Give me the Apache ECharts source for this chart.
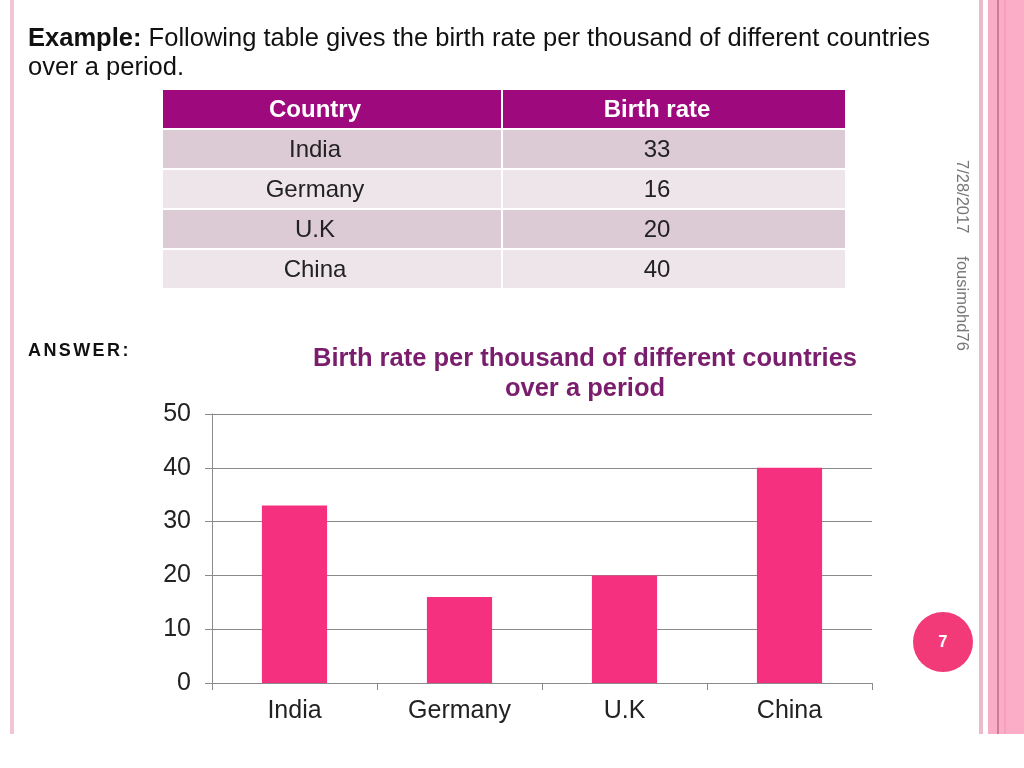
<!DOCTYPE html>
<html>
<head>
<meta charset="utf-8">
<script src="https://cdn.jsdelivr.net/npm/echarts@6/dist/echarts.min.js"></script>
<style>
  html, body { margin: 0; padding: 0; background: #ffffff; }
  #stage { position: relative; width: 1024px; height: 768px; overflow: hidden; background: #fff; font-family: "Liberation Sans", Arial, sans-serif; }
  #chart { position: absolute; left: 0; top: 0; width: 1024px; height: 768px; }
  #heading { position: absolute; left: 28px; top: 23px; font-size: 26px; line-height: 29px; color: #111; white-space: nowrap; transform-origin: 0 0; }
  #heading b { font-weight: bold; }
  #answer { position: absolute; left: 28px; top: 340px; font-weight: bold; font-size: 18px; letter-spacing: 2.4px; color: #111; }
  #tbl { position: absolute; left: 163px; top: 90px; border-collapse: separate; border-spacing: 0; }
  #tbl td, #tbl th { padding: 0; text-align: center; font-size: 24px; box-sizing: border-box; border-bottom: 2px solid #fff; }
  #tbl th { background: #9E0A7E; color: #fff; font-weight: bold; height: 40px; }
  #tbl td { height: 40px; color: #222; }
  #tbl tr.dark td { background: #DCCAD4; }
  #tbl tr.light td { background: #EEE5EB; }
  #tbl .c1 { width: 340px; padding-right: 34px; border-right: 2px solid #fff; }
  #tbl .c2 { width: 342px; padding-right: 34px; }
  .vline { position: absolute; top: 0; height: 734px; }
  #vtext { position: absolute; left: 963px; top: 160px; transform-origin: 0 0; transform: rotate(90deg) translate(0, -9px); white-space: pre; font-size: 16.5px; color: #777; }
  #badge { position: absolute; left: 913px; top: 612px; width: 60px; height: 60px; border-radius: 50%; background: #F23A78; color: #fff; font-weight: bold; font-size: 16px; line-height: 60px; text-align: center; }
</style>
</head>
<body>
<div id="stage">
  <div class="vline" style="left:10px; width:4px; background:#F2C4D4;"></div>
  <div class="vline" style="left:979px; width:4px; background:#EDBACB;"></div>
  <div class="vline" style="left:988px; width:36px; background:#FBADC7;"></div>
  <div class="vline" style="left:997px; width:2px; background:#D07A9B;"></div>
  <div class="vline" style="left:1004px; width:2px; background:#F7A0BE;"></div>
  <div id="chart"></div>
  <div id="heading"></div>
  <table id="tbl"></table>
  <div id="answer">ANSWER:</div>
  <div id="vtext">7/28/2017     fousimohd76</div>
  <div id="badge">7</div>
</div>
<script>
// ---- data ----
var countries = ["India", "Germany", "U.K", "China"];
var birthRates = [33, 16, 20, 40];
var tableHeaders = ["Country", "Birth rate"];
var yTicks = [0, 10, 20, 30, 40, 50];
var headingBold = "Example:";
var headingText = " Following table gives the birth rate per thousand of different countries";
var headingLine2 = "over a period.";
var chartTitle = "Birth rate per thousand of different countries\nover a period";

// heading (fit first line to the reference width)
var heading = document.getElementById('heading');
heading.innerHTML = '<span id="hl1"><b>' + headingBold + '</b>' + headingText + '</span><br>' + headingLine2;
var w1 = document.getElementById('hl1').getBoundingClientRect().width;
var targetW = 902;
heading.style.transform = 'scaleX(' + (targetW / w1) + ')';

// table built from arrays
var tbl = document.getElementById('tbl');
var html = '<tr><th class="c1">' + tableHeaders[0] + '</th><th class="c2">' + tableHeaders[1] + '</th></tr>';
for (var i = 0; i < countries.length; i++) {
  html += '<tr class="' + (i % 2 === 0 ? 'dark' : 'light') + '"><td class="c1">' + countries[i] + '</td><td class="c2">' + birthRates[i] + '</td></tr>';
}
tbl.innerHTML = html;

// chart
var chart = echarts.init(document.getElementById('chart'), null, { renderer: 'canvas' });
var gray = '#8a8a8a';
var font = 'Liberation Sans, Arial, sans-serif';
chart.setOption({
  backgroundColor: 'transparent',
  animation: false,
  title: {
    text: chartTitle,
    left: 580,
    top: 339,
    textAlign: 'center',
    textStyle: {
      fontFamily: font,
      fontWeight: 'bold',
      fontSize: 25.5,
      lineHeight: 30,
      color: '#7A1D6C',
      align: 'center'
    }
  },
  grid: { left: 212, right: 152, top: 414, bottom: 85, containLabel: false },
  xAxis: {
    type: 'category',
    data: countries,
    axisLine: { show: true, lineStyle: { color: gray, width: 1 } },
    axisTick: { show: true, length: 7, lineStyle: { color: gray } },
    axisLabel: { margin: 16, fontSize: 25, color: '#222', fontFamily: font }
  },
  yAxis: {
    type: 'value',
    min: yTicks[0],
    max: yTicks[yTicks.length - 1],
    interval: yTicks[1] - yTicks[0],
    axisLine: { show: true, lineStyle: { color: gray, width: 1 } },
    axisTick: { show: true, length: 7, lineStyle: { color: gray } },
    splitLine: { show: true, lineStyle: { color: gray, width: 1 } },
    axisLabel: { margin: 21, fontSize: 25, color: '#222', fontFamily: font }
  },
  series: [{
    type: 'bar',
    data: birthRates,
    barWidth: '39.5%',
    itemStyle: { color: '#F5307E' }
  }]
});
</script>
</body>
</html>
